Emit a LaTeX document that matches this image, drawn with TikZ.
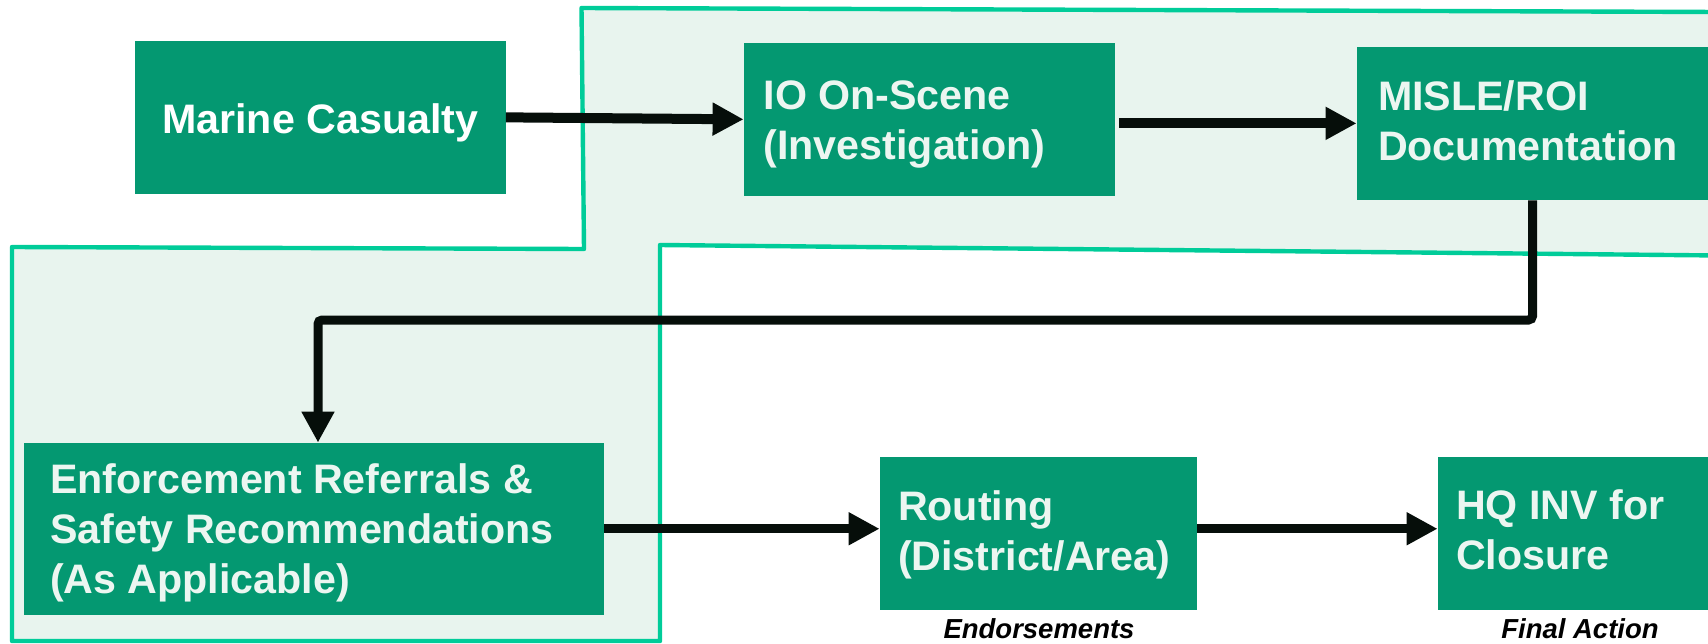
\documentclass[tikz,border=0pt]{standalone}
\usepackage{fontspec}
\setmainfont{Liberation Sans}
\usetikzlibrary{arrows.meta}
\definecolor{boxgreen}{RGB}{4,152,113}
\definecolor{outlinegreen}{RGB}{0,204,153}
\definecolor{regionfill}{RGB}{232,244,238}
\definecolor{textlight}{RGB}{236,246,241}
\definecolor{arrowblack}{RGB}{6,14,10}
\begin{document}
\begin{tikzpicture}[x=0.5pt,y=-0.5pt,
  box/.style={draw=none, fill=boxgreen, rectangle, inner sep=0pt},
  txt/.style={text=textlight, font=\bfseries\fontsize{20.6pt}{25pt}\selectfont, align=left, inner sep=0pt, anchor=west},
  arr/.style={draw=arrowblack, line width=5pt, -{Triangle[length=15.5pt,width=15.5pt]}},
  note/.style={font=\bfseries\itshape\fontsize{13.75pt}{16pt}\selectfont, inner sep=0pt, anchor=base}]
\useasboundingbox (0,0) rectangle (1708,643);
\begin{scope}
\clip (0,0) rectangle (1708,643);
\draw[draw=outlinegreen, line width=2.2pt, fill=regionfill, line join=round]
  (581.5,8) -- (1720,12) -- (1720,255.5) -- (660,245) -- (660,641) -- (12,641) -- (12,247) -- (584,249) -- cycle;
\end{scope}
% boxes
\node[box, minimum width=185.25pt, minimum height=76.35pt] (marine) at (320.25,117.35) {};
\node[box, minimum width=185.35pt, minimum height=76.35pt] (io) at (929.35,119.35) {};
\node[box, minimum width=175.5pt, minimum height=76.65pt] (misle) at (1532.5,123.35) {};
\node[box, minimum width=290pt, minimum height=85.75pt] (enf) at (314,528.75) {};
\node[box, minimum width=158.5pt, minimum height=76.5pt] (routing) at (1038.5,533.5) {};
\node[box, minimum width=135pt, minimum height=76.5pt] (hq) at (1573,533.5) {};
% texts
\node[txt, text=white, anchor=center, align=center, yshift=-2.5pt] (marineT) at (marine.center) {Marine Casualty};
\node[txt, yshift=-2.5pt] (ioT) at ([xshift=9.8pt]io.west) {IO On-Scene\\(Investigation)};
\node[txt, yshift=1.3pt] (misleT) at ([xshift=10.5pt]misle.west) {MISLE/ROI\\Documentation};
\node[txt, yshift=-2pt] (enfT) at ([xshift=13pt]enf.west) {Enforcement Referrals \&\\Safety Recommendations\\(As Applicable)};
\node[txt, yshift=-0.5pt] (routingT) at ([xshift=9pt]routing.west) {Routing\\(District/Area)};
\node[txt, yshift=1.75pt] (hqT) at ([xshift=9pt]hq.west) {HQ INV for\\Closure};
% connectors
\coordinate (turn) at (318,320);
\draw[arr] (marine.east) -- (io.west);
\draw[arr] ([xshift=2pt]io.east |- misle.west) -- (misle.west);
\draw[arr, line width=4.5pt, rounded corners=2pt] (misle.south) |- (turn) -- (turn |- enf.north);
\draw[arr, line width=4.5pt] (enf.east) -- (enf.east -| routing.west);
\draw[arr, line width=4.5pt] (routing.east |- enf.east) -- (hq.west |- enf.east);
% notes
\node[note] (endo) at (1039,638) {Endorsements};
\node[note] (final) at (1580,638) {Final Action};
\end{tikzpicture}
\end{document}
